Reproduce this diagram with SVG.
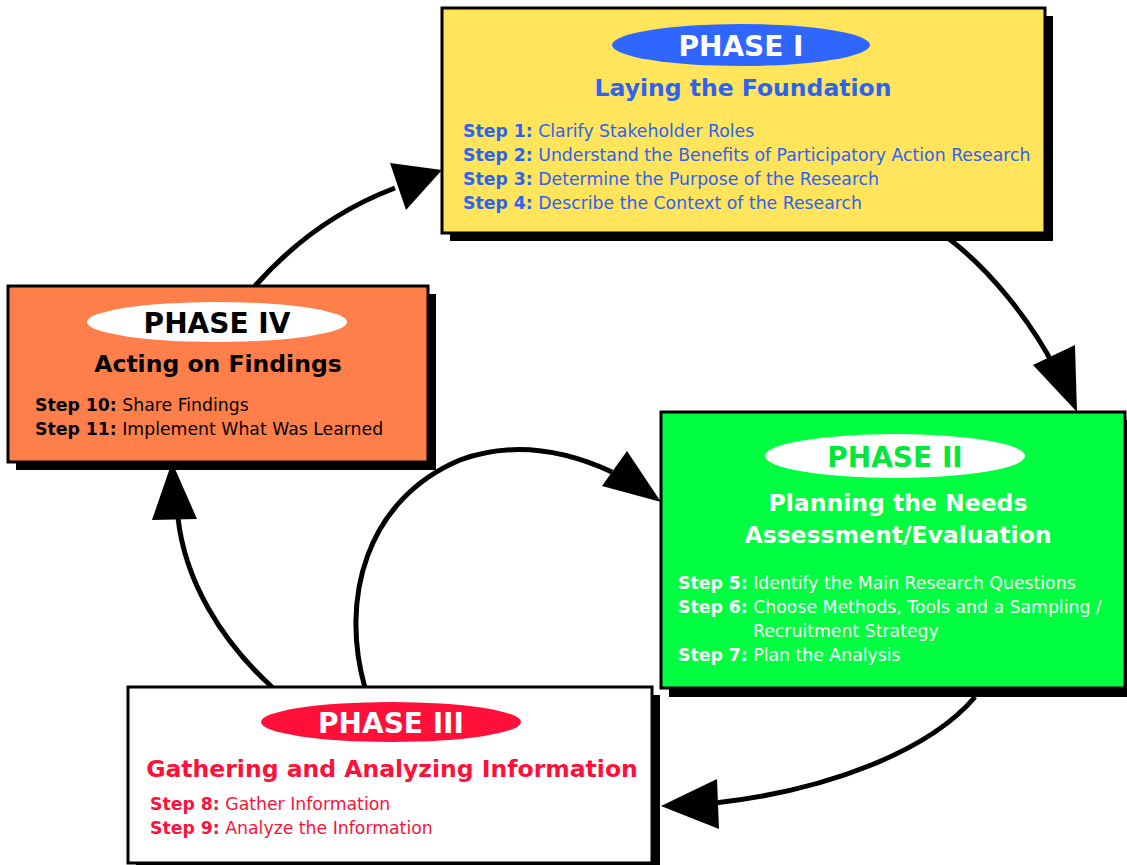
<svg xmlns="http://www.w3.org/2000/svg" width="1127" height="865" viewBox="0 0 1127 865">
  <style>
    text { font-family: 'DejaVu Sans', Verdana, sans-serif; }
    .box { stroke: #000; stroke-width: 3; }
    .shadow { fill: #000; }
    .phase { font-size: 28px; font-weight: bold; text-anchor: middle; }
    .title { font-size: 23.5px; font-weight: bold; text-anchor: middle; }
    .step { font-size: 17.3px; }
    .step tspan.b { font-weight: bold; }
    .conn { fill: none; stroke: #000; stroke-width: 5; }
  </style>
  <rect width="1127" height="865" fill="#fff"/>

  <!-- connectors: curved strokes with filled triangular heads -->
  <g id="connectors">
    <path class="conn" d="M255,286 C300,235 350,205 395,188"/>
    <path d="M442,170 L390,163 L406,210 Z"/>
    <path class="conn" d="M948,238 C990,270 1030,320 1055,368"/>
    <path d="M1077,412 L1033,365 L1075,345 Z"/>
    <path class="conn" d="M975,697 C930,750 830,790 715,803"/>
    <path d="M661,806 L717,779 L719,829 Z"/>
    <path class="conn" d="M365,688 C340,600 365,500 460,460 C520,438 575,455 612,472"/>
    <path d="M661,502 L602,486 L627,451 Z"/>
    <path class="conn" d="M273,688 C220,640 185,580 178,518"/>
    <path d="M172,462 L152,520 L197,519 Z"/>
  </g>

  <!-- Phase I -->
  <g id="phase1">
    <rect class="shadow" x="450" y="16" width="603" height="225"/>
    <rect class="box" x="442" y="8" width="603" height="225" fill="#FFE45C"/>
    <ellipse cx="741" cy="45" rx="129" ry="21" fill="#2E66FF"/>
    <text class="phase" x="741" y="56" fill="#fff">PHASE I</text>
    <text class="title" x="743" y="96" fill="#2E62F0">Laying the Foundation</text>
    <g class="step" fill="#2E62F0">
      <text x="463" y="137"><tspan class="b">Step 1:</tspan> Clarify Stakeholder Roles</text>
      <text x="463" y="161"><tspan class="b">Step 2:</tspan> Understand the Benefits of Participatory Action Research</text>
      <text x="463" y="185"><tspan class="b">Step 3:</tspan> Determine the Purpose of the Research</text>
      <text x="463" y="209"><tspan class="b">Step 4:</tspan> Describe the Context of the Research</text>
    </g>
  </g>

  <!-- Phase II -->
  <g id="phase2">
    <rect class="shadow" x="669" y="420" width="466" height="277"/>
    <rect class="box" x="661" y="412" width="464" height="276" fill="#00FF40"/>
    <ellipse cx="895" cy="456" rx="130" ry="22" fill="#fff"/>
    <text class="phase" x="895" y="467" fill="#00E83A">PHASE II</text>
    <text class="title" x="898" y="511" fill="#fff">Planning the Needs</text>
    <text class="title" x="898" y="543" fill="#fff">Assessment/Evaluation</text>
    <g class="step" fill="#fff">
      <text x="678" y="589"><tspan class="b">Step 5:</tspan> Identify the Main Research Questions</text>
      <text x="678" y="613"><tspan class="b">Step 6:</tspan> Choose Methods, Tools and a Sampling /</text>
      <text x="753" y="637">Recruitment Strategy</text>
      <text x="678" y="661"><tspan class="b">Step 7:</tspan> Plan the Analysis</text>
    </g>
  </g>

  <!-- Phase III -->
  <g id="phase3">
    <rect class="shadow" x="136" y="695" width="524" height="176"/>
    <rect class="box" x="128" y="687" width="524" height="176" fill="#fff"/>
    <ellipse cx="391" cy="722" rx="130" ry="20" fill="#FF1038"/>
    <text class="phase" x="391" y="733" fill="#fff">PHASE III</text>
    <text class="title" x="392" y="777" fill="#FF1038">Gathering and Analyzing Information</text>
    <g class="step" fill="#FF1038">
      <text x="150" y="810"><tspan class="b">Step 8:</tspan> Gather Information</text>
      <text x="150" y="834"><tspan class="b">Step 9:</tspan> Analyze the Information</text>
    </g>
  </g>

  <!-- Phase IV -->
  <g id="phase4">
    <rect class="shadow" x="16" y="294" width="420" height="176"/>
    <rect class="box" x="8" y="286" width="420" height="176" fill="#FF7F4A"/>
    <ellipse cx="217" cy="322" rx="130" ry="20" fill="#fff"/>
    <text class="phase" x="217" y="333" fill="#000">PHASE IV</text>
    <text class="title" x="218" y="372" fill="#000">Acting on Findings</text>
    <g class="step" fill="#000">
      <text x="35" y="411"><tspan class="b">Step 10:</tspan> Share Findings</text>
      <text x="35" y="435"><tspan class="b">Step 11:</tspan> Implement What Was Learned</text>
    </g>
  </g>
</svg>
